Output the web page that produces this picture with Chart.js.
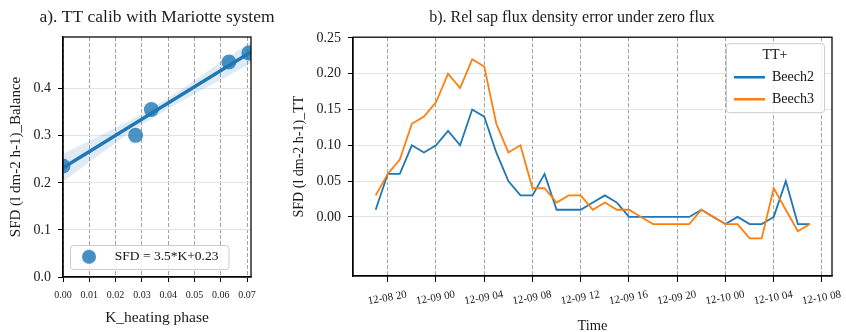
<!DOCTYPE html>
<html>
<head>
<meta charset="utf-8">
<script src="https://cdn.jsdelivr.net/npm/chart.js@4.4.1/dist/chart.umd.min.js"></script>
<style>
  body { margin: 0; background: #fff; }
  #wrap { position: relative; width: 846px; height: 332px; }
  canvas { position: absolute; top: 0; }
  #calibChart { left: 0; }
  #errorChart { left: 290px; }
</style>
</head>
<body>
<div id="wrap">
  <canvas id="calibChart" width="290" height="332"></canvas>
  <canvas id="errorChart" width="556" height="332"></canvas>
</div>
<script>
// a) calibration: measured points, fitted line and its confidence band
const kHeating = [0.0, 0.0276, 0.0336, 0.0631, 0.0707];
const sfdBalance = [0.236, 0.301, 0.356, 0.457, 0.476];
const fitK = [0.0, 0.0715];
const fitSFD = [0.232, 0.478];
const bandK = [0.0, 0.01, 0.02, 0.03, 0.04, 0.05, 0.06, 0.0715];
const bandUpper = [0.262, 0.289, 0.317, 0.347, 0.381, 0.418, 0.457, 0.500];
const bandLower = [0.202, 0.244, 0.285, 0.323, 0.357, 0.389, 0.419, 0.455];
const fitLabel = 'SFD = 3.5*K+0.23';
const kTicks = ['0.00', '0.01', '0.02', '0.03', '0.04', '0.05', '0.06', '0.07'];
const sfdTicksA = ['0.0', '0.1', '0.2', '0.3', '0.4'];

// b) relative sap flux density error, hourly
const times = [
  '12-08 19', '12-08 20', '12-08 21', '12-08 22', '12-08 23',
  '12-09 00', '12-09 01', '12-09 02', '12-09 03', '12-09 04', '12-09 05',
  '12-09 06', '12-09 07', '12-09 08', '12-09 09', '12-09 10', '12-09 11',
  '12-09 12', '12-09 13', '12-09 14', '12-09 15', '12-09 16', '12-09 17',
  '12-09 18', '12-09 19', '12-09 20', '12-09 21', '12-09 22', '12-09 23',
  '12-10 00', '12-10 01', '12-10 02', '12-10 03', '12-10 04', '12-10 05',
  '12-10 06', '12-10 07'
];
const beech2 = [
  0.01, 0.06, 0.06, 0.10, 0.09,
  0.10, 0.12, 0.10, 0.15, 0.14, 0.09, 0.05, 0.03, 0.03, 0.06, 0.01, 0.01,
  0.01, 0.02, 0.03, 0.02, 0.00, 0.00, 0.00, 0.00, 0.00, 0.00, 0.01, 0.00,
  -0.01, 0.00, -0.01, -0.01, 0.00, 0.05, -0.01, -0.01
];
const beech3 = [
  0.03, 0.06, 0.08, 0.13, 0.14,
  0.16, 0.20, 0.18, 0.22, 0.21, 0.13, 0.09, 0.10, 0.04, 0.04, 0.02, 0.03,
  0.03, 0.01, 0.02, 0.01, 0.01, 0.00, -0.01, -0.01, -0.01, -0.01, 0.01, 0.00,
  -0.01, -0.01, -0.03, -0.03, 0.04, 0.01, -0.02, -0.01
];
const timeTicks = ['12-08 20', '12-09 00', '12-09 04', '12-09 08', '12-09 12',
  '12-09 16', '12-09 20', '12-10 00', '12-10 04', '12-10 08'];
const sfdTicksB = ['0.00', '0.05', '0.10', '0.15', '0.20', '0.25'];

// hours counted from 12-08 00:00
function toHours(s) {
  return (parseInt(s.slice(3, 5)) - 8) * 24 + parseInt(s.slice(6));
}

Chart.defaults.font.family = "'Liberation Serif', 'Times New Roman', serif";
Chart.defaults.color = '#1a1a1a';

const BLUE = '#1f77b4';
const ORANGE = '#ff7f0e';

// legend box inside the axes + black frame on all four sides
const axesFrame = {
  id: 'axesFrame',
  afterLayout(chart, args, opts) {
    const a = chart.chartArea;
    const lg = chart.legend;
    if (lg) {
      const w = lg.width;
      const left = opts.side === 'right' ? a.right - opts.dx - w : a.left + opts.dx;
      const top = opts.side === 'right' ? a.top + opts.dy : a.bottom - opts.dy - opts.h;
      lg.left = left; lg.right = left + w;
      lg.top = top; lg.bottom = top + a.height;
    }
    if (opts.titleShift) {
      chart.titleBlock.left += opts.titleShift;
      chart.titleBlock.right += opts.titleShift;
    }
  },
  afterDatasetsDraw(chart, args, opts) {
    const {ctx, chartArea: a} = chart;
    const lg = chart.legend;
    if (lg) {
      ctx.save();
      ctx.beginPath();
      ctx.roundRect(lg.left + 0.5, lg.top + 0.5, lg.width, opts.h, 3);
      ctx.fillStyle = 'rgba(255,255,255,0.85)';
      ctx.fill();
      ctx.strokeStyle = '#cccccc';
      ctx.lineWidth = 1;
      ctx.stroke();
      ctx.restore();
      lg.draw();
    }
    ctx.save();
    ctx.strokeStyle = '#000';
    ctx.lineWidth = 1.25;
    ctx.strokeRect(a.left, a.top, a.width, a.height);
    ctx.restore();
  }
};

// legend marker for panel a: dot offset left inside a wider box
const legendDot = document.createElement('canvas');
legendDot.width = 33;
legendDot.height = 16;
const dctx = legendDot.getContext('2d');
dctx.fillStyle = 'rgba(31,119,180,0.8)';
dctx.beginPath();
dctx.arc(14, 8, 7, 0, Math.PI * 2);
dctx.fill();

new Chart(document.getElementById('calibChart'), {
  type: 'scatter',
  data: {
    datasets: [
      {
        label: fitLabel,
        data: kHeating.map((k, i) => ({x: k, y: sfdBalance[i]})),
        backgroundColor: 'rgba(31,119,180,0.8)',
        borderWidth: 0,
        pointRadius: 7.5,
        order: 1,
        clip: 0
      },
      {
        type: 'line',
        label: 'fit',
        data: fitK.map((k, i) => ({x: k, y: fitSFD[i]})),
        borderColor: BLUE,
        borderWidth: 3.5,
        pointRadius: 0,
        order: 0,
        clip: 0
      },
      {
        type: 'line',
        label: 'ci upper',
        data: bandK.map((k, i) => ({x: k, y: bandUpper[i]})),
        borderWidth: 0,
        pointRadius: 0,
        tension: 0.3,
        fill: '+1',
        backgroundColor: 'rgba(31,119,180,0.15)',
        order: 2,
        clip: 0
      },
      {
        type: 'line',
        label: 'ci lower',
        data: bandK.map((k, i) => ({x: k, y: bandLower[i]})),
        borderWidth: 0,
        pointRadius: 0,
        tension: 0.3,
        fill: false,
        order: 3,
        clip: 0
      }
    ]
  },
  options: {
    responsive: false,
    animation: false,
    layout: { padding: { left: 0, right: 39, top: 0, bottom: 0 } },
    plugins: {
      title: {
        display: true,
        text: 'a). TT calib with Mariotte system',
        font: { size: 17.5, weight: 'normal' },
        padding: { top: 7, bottom: 9 },
        color: '#1a1a1a'
      },
      legend: {
        position: 'chartArea',
        align: 'start',
        labels: {
          filter: item => item.datasetIndex === 0,
          usePointStyle: true,
          pointStyle: legendDot,
          pointStyleWidth: 33,
          font: { size: 13.5 },
          padding: 5
        }
      },
      tooltip: { enabled: false },
      axesFrame: { side: 'left', dx: 7, dy: 8, h: 24, titleShift: 31.5 }
    },
    scales: {
      x: {
        type: 'linear',
        min: 0,
        max: 0.0715,
        afterFit: s => { s.height = 55; },
        afterBuildTicks: s => { s.ticks = kTicks.map(t => ({value: parseFloat(t)})); },
        ticks: { callback: (v, i) => kTicks[i], font: { size: 10 }, padding: 7, maxRotation: 0, autoSkip: false },
        grid: { color: '#8c8c8c', lineWidth: 0.8, tickColor: '#000', tickWidth: 1, tickLength: 5 },
        border: { color: '#000', width: 1.25, dash: [4, 2] },
        title: { display: true, text: 'K_heating phase', font: { size: 15.5, lineHeight: 1 }, padding: { top: 0, bottom: 6 } }
      },
      y: {
        min: 0,
        max: 0.51,
        afterFit: s => { s.width = 63; },
        afterBuildTicks: s => { s.ticks = sfdTicksA.map(t => ({value: parseFloat(t)})); },
        ticks: { callback: (v, i) => sfdTicksA[i], font: { size: 14 }, padding: 7 },
        grid: { color: '#e3e3e3', lineWidth: 1, tickColor: '#000', tickWidth: 1, tickLength: 5 },
        border: { color: '#000', width: 1.25 },
        title: { display: true, text: 'SFD (l dm-2 h-1)_Balance', font: { size: 15, lineHeight: 1 }, padding: { top: 9, bottom: 0 } }
      }
    }
  },
  plugins: [axesFrame]
});

const hours = times.map(toHours);

new Chart(document.getElementById('errorChart'), {
  type: 'line',
  data: {
    datasets: [
      {
        label: 'Beech2',
        data: hours.map((h, i) => ({x: h, y: beech2[i]})),
        borderColor: BLUE,
        backgroundColor: BLUE,
        borderWidth: 1.8,
        pointRadius: 0,
        order: 1
      },
      {
        label: 'Beech3',
        data: hours.map((h, i) => ({x: h, y: beech3[i]})),
        borderColor: ORANGE,
        backgroundColor: ORANGE,
        borderWidth: 1.8,
        pointRadius: 0,
        order: 0
      }
    ]
  },
  options: {
    responsive: false,
    animation: false,
    layout: { padding: { left: 0, right: 14, top: 0, bottom: 0 } },
    plugins: {
      title: {
        display: true,
        text: 'b). Rel sap flux density error under zero flux',
        font: { size: 16, weight: 'normal' },
        padding: { top: 8, bottom: 10 },
        color: '#1a1a1a'
      },
      legend: {
        position: 'chartArea',
        align: 'start',
        title: { display: true, text: 'TT+', font: { size: 14, lineHeight: 1 }, padding: { top: 5, bottom: 0 } },
        labels: {
          sort: (a, b) => a.datasetIndex - b.datasetIndex,
          generateLabels: chart => Chart.defaults.plugins.legend.labels.generateLabels(chart)
            .map(item => Object.assign(item, { lineWidth: 2.6 })),
          usePointStyle: true,
          pointStyle: 'line',
          pointStyleWidth: 31,
          font: { size: 14 },
          padding: 8
        }
      },
      tooltip: { enabled: false },
      axesFrame: { side: 'right', dx: 8, dy: 6, h: 69, titleShift: 11 }
    },
    scales: {
      x: {
        type: 'linear',
        min: 17.12,
        max: 56.83,
        afterFit: s => { s.height = 56; },
        afterBuildTicks: s => { s.ticks = timeTicks.map(t => ({value: toHours(t)})); },
        ticks: { callback: (v, i) => timeTicks[i], font: { size: 11 }, padding: 6, minRotation: 10, maxRotation: 10, labelOffset: 19, autoSkip: false },
        grid: { color: '#8c8c8c', lineWidth: 0.8, tickColor: '#000', tickWidth: 1, tickLength: 6 },
        border: { color: '#000', width: 1.25, dash: [4, 2] },
        title: { display: true, text: 'Time', font: { size: 14.5, lineHeight: 0.8 }, padding: { top: 0, bottom: 0 } }
      },
      y: {
        min: -0.0825,
        max: 0.2509,
        afterFit: s => { s.width = 63; },
        afterBuildTicks: s => { s.ticks = sfdTicksB.map(t => ({value: parseFloat(t)})); },
        ticks: { callback: (v, i) => sfdTicksB[i], font: { size: 14 }, padding: 7 },
        grid: { color: '#e3e3e3', lineWidth: 1, tickColor: '#000', tickWidth: 1, tickLength: 5 },
        border: { color: '#000', width: 1.25 },
        title: { display: true, text: 'SFD (l dm-2 h-1)_TT', font: { size: 14, lineHeight: 1 }, padding: { top: 2, bottom: 0 } }
      }
    }
  },
  plugins: [axesFrame]
});
</script>
</body>
</html>
